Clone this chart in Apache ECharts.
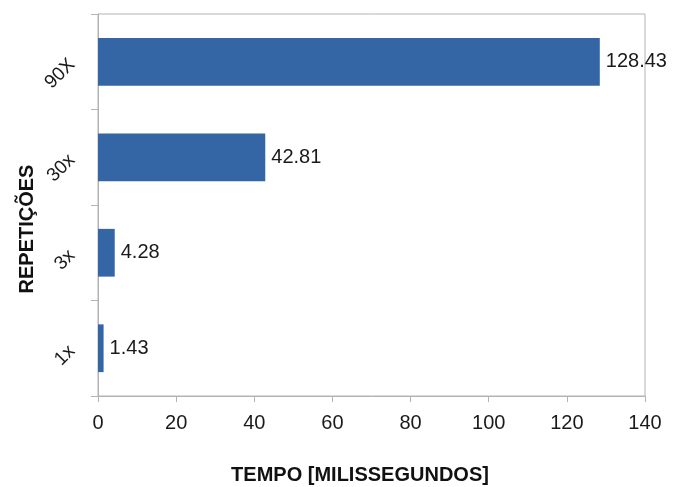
<!DOCTYPE html>
<html>
<head>
<meta charset="utf-8">
<script src="https://cdn.jsdelivr.net/npm/echarts@6/dist/echarts.min.js"></script>
<style>
  html, body { margin: 0; padding: 0; background: #ffffff; }
  #chart { width: 673px; height: 487px; }
</style>
</head>
<body>
<div id="chart"></div>
<script>
// categorias (de baixo para cima) e tempos
const repeticoes = ['1x', '3x', '30x', '90X']
const tempos = [1.43, 4.28, 42.81, 128.43]
const eixoX = { min: 0, max: 140, interval: 20 }

const chart = echarts.init(document.getElementById('chart'))

const option = {
  backgroundColor: '#ffffff',
  animation: false,
  textStyle: { fontFamily: 'Liberation Sans' },
  grid: {
    left: 98,
    right: 28,
    top: 14,
    bottom: 91,
    show: true,
    borderColor: '#b3b3b3',
    borderWidth: 1
  },
  xAxis: {
    type: 'value',
    min: eixoX.min,
    max: eixoX.max,
    interval: eixoX.interval,
    axisLine: { show: true, lineStyle: { color: '#b3b3b3' } },
    axisTick: { show: true, length: 6, lineStyle: { color: '#b3b3b3' } },
    axisLabel: { color: '#1a1a1a', fontSize: 20, margin: 17 },
    splitLine: { show: false }
  },
  yAxis: {
    type: 'category',
    data: repeticoes,
    axisLine: { show: true, lineStyle: { color: '#b3b3b3' } },
    axisTick: { show: true, length: 7, lineStyle: { color: '#b3b3b3' } },
    axisLabel: { color: '#1a1a1a', fontSize: 19, rotate: 45, margin: 26 },
    splitLine: { show: false }
  },
  graphic: [
    {
      type: 'text',
      x: 360,
      y: 475,
      style: {
        text: 'TEMPO [MILISSEGUNDOS]',
        font: 'bold 20px "Liberation Sans"',
        fill: '#111',
        align: 'center',
        verticalAlign: 'middle'
      }
    },
    {
      type: 'text',
      x: 27,
      y: 229,
      rotation: Math.PI / 2,
      style: {
        text: 'REPETIÇÕES',
        font: 'bold 20px "Liberation Sans"',
        fill: '#111',
        align: 'center',
        verticalAlign: 'middle'
      }
    }
  ],
  series: [{
    type: 'bar',
    data: tempos,
    barCategoryGap: '50%',
    itemStyle: { color: '#3465a4' },
    label: {
      show: true,
      position: 'right',
      distance: 6,
      color: '#1a1a1a',
      fontSize: 20
    }
  }]
}

chart.setOption(option)
</script>
</body>
</html>
